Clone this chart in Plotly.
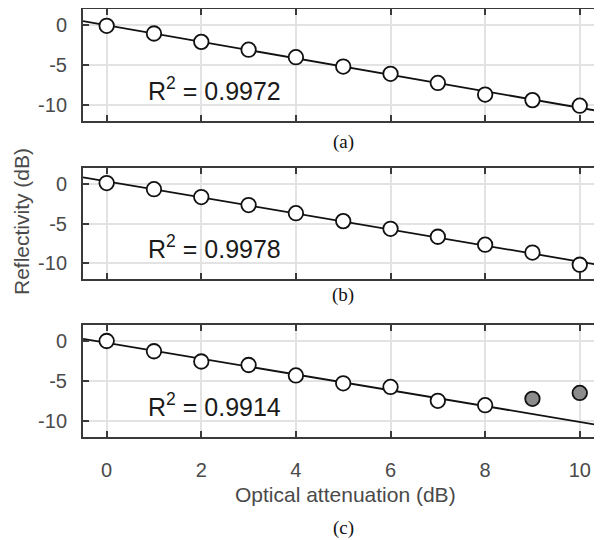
import numpy as np
import plotly.graph_objects as go

# ---------------- data ----------------
attenuation = [0, 1, 2, 3, 4, 5, 6, 7, 8, 9, 10]

refl_a = [-0.1, -1.06, -2.11, -3.09, -4.02, -5.2, -6.1, -7.24, -8.7, -9.39, -10.08]
refl_b = [0.1, -0.67, -1.67, -2.67, -3.7, -4.7, -5.67, -6.67, -7.67, -8.67, -10.2]
refl_c = [0.0, -1.28, -2.56, -3.0, -4.3, -5.29, -5.74, -7.48, -8.02, -7.23, -6.49]
c_fit_count = 9          # points used for fit in panel (c); rest are outliers (grey)

r2_labels = ["R<sup>2</sup> = 0.9972", "R<sup>2</sup> = 0.9978", "R<sup>2</sup> = 0.9914"]
panel_labels = ["(a)", "(b)", "(c)"]
x_ticks = [0, 2, 4, 6, 8, 10]
y_ticks = [-10, -5, 0]
y_ticktext = ["-10", "-5", "0"]
x_title = "Optical attenuation (dB)"
y_title = "Reflectivity (dB)"

# ---------------- layout constants ----------------
OFF = 8                      # default page body margin
W, H = 602 - OFF, 540 - OFF
L = 83 - OFF
panel_px = [(9, 121), (168, 279), (325, 437)]   # top, bottom (page pixels)
label_py = [142, 295, 528]

AX_COL = "#3a3a3a"
TXT_COL = "#4a4a4a"
GRID_COL = "#e3e3e3"
SANS = "Arial, Liberation Sans, Helvetica, sans-serif"
SERIF = "Times New Roman, Liberation Serif, serif"


def py(p):
    """page pixel row -> paper fraction"""
    return 1 - (p - OFF) / H


def px(p):
    """page pixel column -> paper fraction"""
    return (p - OFF - L) / (W - L)


fig = go.Figure()

series = [
    (refl_a, len(attenuation)),
    (refl_b, len(attenuation)),
    (refl_c, c_fit_count),
]

xfit = np.array([-0.5, 10.5])
for i, (vals, nfit) in enumerate(series):
    k = "" if i == 0 else str(i + 1)
    xa, ya = "x" + k, "y" + k
    xs = np.array(attenuation[:nfit], dtype=float)
    ys = np.array(vals[:nfit], dtype=float)
    slope, icpt = np.polyfit(xs, ys, 1)
    fig.add_trace(go.Scatter(
        x=xfit, y=slope * xfit + icpt, mode="lines",
        line=dict(color="#111111", width=1.8), xaxis=xa, yaxis=ya,
        showlegend=False, hoverinfo="skip"))
    fig.add_trace(go.Scatter(
        x=attenuation[:nfit], y=vals[:nfit], mode="markers",
        marker=dict(size=14.5, color="white", line=dict(color="#111111", width=1.8)),
        xaxis=xa, yaxis=ya, showlegend=False))
    if nfit < len(attenuation):
        fig.add_trace(go.Scatter(
            x=attenuation[nfit:], y=vals[nfit:], mode="markers",
            marker=dict(size=14.5, color="#8c8c8c", line=dict(color="#111111", width=1.8)),
            xaxis=xa, yaxis=ya, showlegend=False))

    top, bot = panel_px[i]
    dom = [py(bot), py(top)]
    xkey = "xaxis" + k
    ykey = "yaxis" + k
    fig.update_layout(**{
        xkey: dict(
            domain=[0, 1], anchor=ya, range=[-0.5, 10.47],
            tickvals=x_ticks, ticktext=[str(v) for v in x_ticks],
            showticklabels=(i == 2),
            ticks="inside", ticklen=6, tickwidth=1.5, tickcolor=AX_COL,
            showline=True, linecolor=AX_COL, linewidth=2, mirror="ticks",
            showgrid=True, gridcolor=GRID_COL, gridwidth=1.5, zeroline=False,
            tickfont=dict(family=SANS, size=20, color=TXT_COL),
            ticklabelstandoff=14, automargin=False,
        ),
        ykey: dict(
            domain=dom, anchor=xa, range=[-12, 2],
            tickvals=y_ticks, ticktext=y_ticktext,
            ticks="inside", ticklen=6, tickwidth=1.5, tickcolor=AX_COL,
            showline=True, linecolor=AX_COL, linewidth=2, mirror="ticks",
            showgrid=True, gridcolor=GRID_COL, gridwidth=1.5, zeroline=False,
            tickfont=dict(family=SANS, size=20, color=TXT_COL),
            ticklabelstandoff=10, automargin=False,
        ),
    })
    fig.add_annotation(x=2.28, y=-8.0, xref=xa, yref=ya, text=r2_labels[i],
                       showarrow=False, xanchor="center", yanchor="middle",
                       font=dict(family=SANS, size=25, color="#1a1a1a"))
    fig.add_annotation(x=px(343), y=py(label_py[i]), xref="paper", yref="paper",
                       text=panel_labels[i], showarrow=False,
                       xanchor="center", yanchor="middle",
                       font=dict(family=SERIF, size=19, color="#111111"))

fig.add_annotation(x=px(345), y=py(494), xref="paper", yref="paper", text=x_title,
                   showarrow=False, xanchor="center", yanchor="middle",
                   font=dict(family=SANS, size=21, color=TXT_COL))
fig.add_annotation(x=px(22), y=py(222), xref="paper", yref="paper",
                   text=y_title, textangle=-90, showarrow=False,
                   xanchor="center", yanchor="middle",
                   font=dict(family=SANS, size=21, color=TXT_COL))

fig.update_layout(
    width=W, height=H, template="none",
    margin=dict(l=L, r=0, t=0, b=0),
    paper_bgcolor="white", plot_bgcolor="white",
    showlegend=False,
)

fig.write_html("out.html")
